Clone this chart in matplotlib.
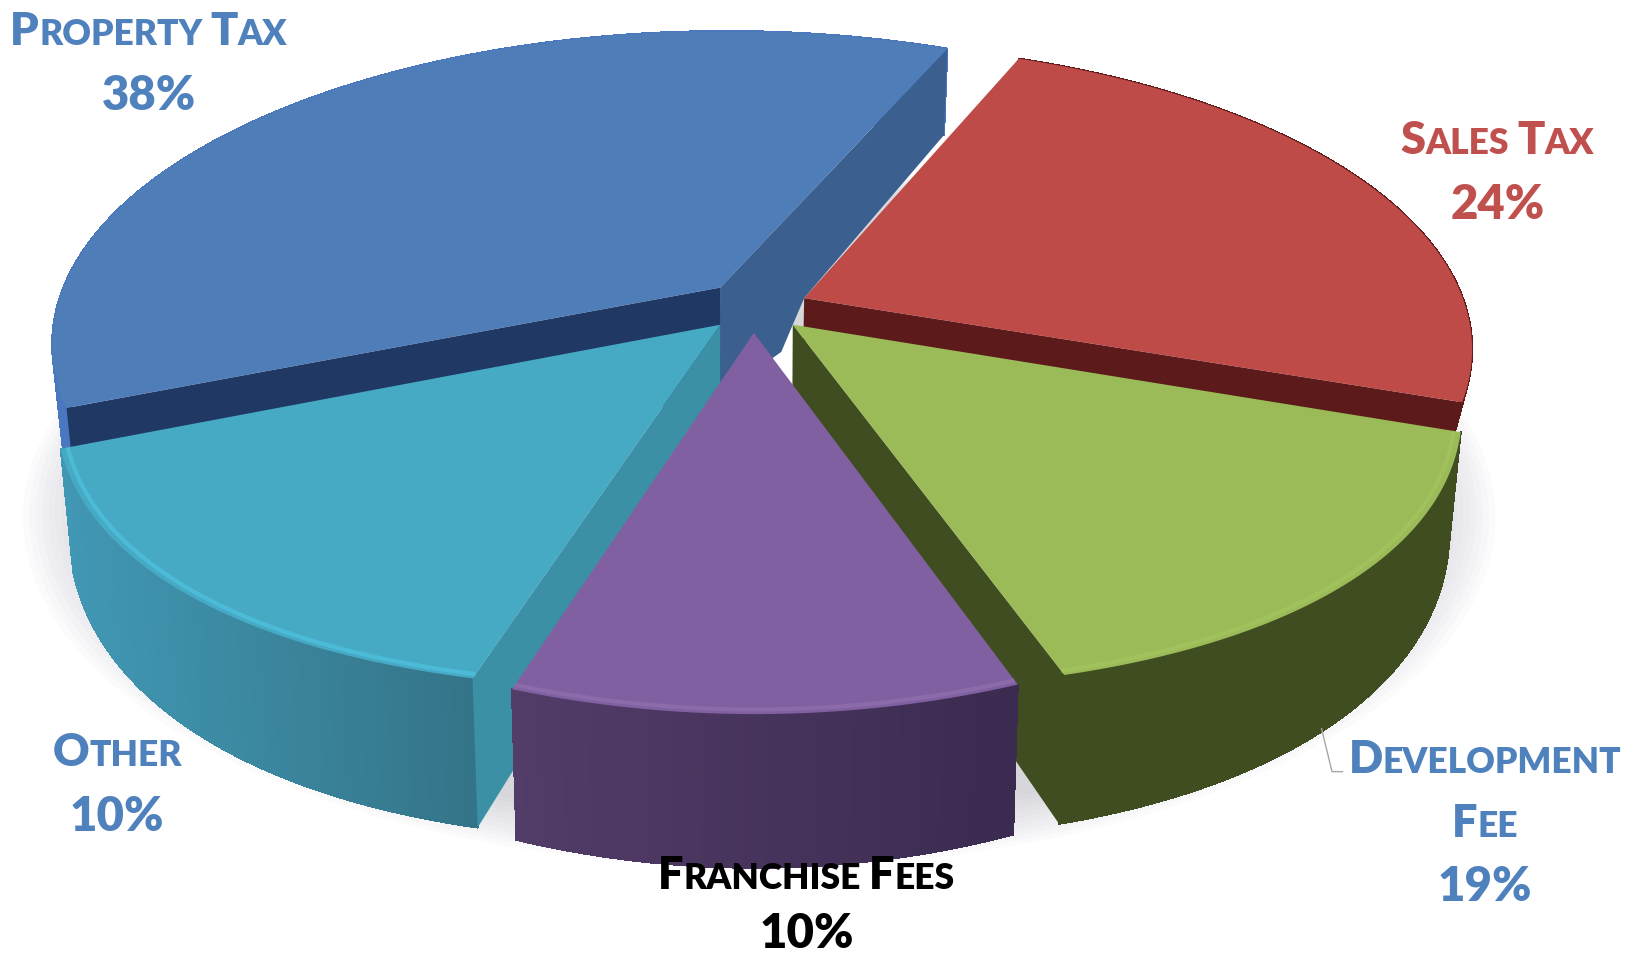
import numpy as np
from matplotlib import pyplot as plt
from matplotlib.collections import PolyCollection
from matplotlib.colors import to_rgb

# slices clockwise from the back right; shares are the angles as drawn on the
# picture, label_pct is what the labels say (the picture does not agree with them)
names = ['Sales Tax', 'Development Fee', 'Franchise Fees', 'Other', 'Property Tax']
shares = [23.9, 14.3, 10.3, 14.0, 37.5]
label_pct = ['24%', '19%', '10%', '10%', '38%']

START_ANGLE = 23.0
CX, CY = 725.0, 300.0     # screen position of the pie centre
RX, RY = 637.0, 296.0
PERSP = 0.175
WALL, WALL_PERSP = 105.0, 0.27
WALL_SHRINK = 0.982       # the bottom of the pie is a little narrower

# plane offset, radius, rim bulge and wall height of each slice
explode_u = [0.068, 0.050, -0.008, -0.058, -0.059]
explode_v = [-0.052, 0.034, 0.060, 0.034, -0.087]
radius = [0.99, 0.99, 0.985, 0.987, 1.0]
bulge = [0.01, 0.025, 0.008, 0.025, 0.0]
wall_scale = [0.4, 1, 1, 1, 1]

top_col = ['#BE4B48', '#9BBB59', '#8060A0', '#46AAC5', '#4F7DB8']
rim_col = [None, '#A3C45C', '#9070AE', '#4FC3E0', None]
wall_left = ['#5C1A1A', '#3F4D20', '#523C68', '#4198B4', '#4A78C0']
wall_right = ['#5C1A1A', '#3F4D20', '#3B2B50', '#347488', '#4A78C0']
cut_start = ['#5C1A1A', '#3F4D20', '#3B2B50', '#3C90A6', '#1F3864']
cut_end = ['#5C1A1A', '#3F4D20', '#3B2B50', '#3C90A6', '#3B5F8F']
draw_order = [4, 0, 3, 1, 2]


def project(u, v):
    w = 1.0 - PERSP * v
    return CX + RX * u / w, CY + RY * v / w


def drop(v):
    return WALL / (1.0 - WALL_PERSP * v)


def under(x):
    return CX + (x - CX) * WALL_SHRINK


def arc(i, a0, a1, n=120):
    t = np.radians(np.linspace(a0, a1, n))
    r = radius[i] * (1 + bulge[i] * np.sin(np.linspace(0, np.pi, n)))
    return explode_u[i] + r * np.sin(t), explode_v[i] - r * np.cos(t)


def mix(c0, c1, f):
    a, b = np.array(to_rgb(c0)), np.array(to_rgb(c1))
    return tuple(a + (b - a) * f)


def cut_visible(ax0, ay0, xc, yc, mx, my):
    # the cut face shows when the slice top lies above the cut line
    if abs(xc - ax0) < 1e-6:
        return False
    return my < ay0 + (yc - ay0) * (mx - ax0) / (xc - ax0)


fig = plt.figure(figsize=(16.42, 9.58), dpi=100)
ax = fig.add_axes([0, 0, 1, 1])
ax.set_xlim(0, 1568)
ax.set_ylim(915, 0)
ax.axis('off')

# soft shadow under the pie
t = np.radians(np.linspace(0, 360, 240))
for r in np.linspace(1.08, 0.98, 12):
    x, y = project(r * np.sin(t), r * -np.cos(t) + 0.02)
    ax.fill(x, y + 125, color='#6E6E80', alpha=0.025, lw=0, zorder=1)

edges = START_ANGLE + np.concatenate([[0], np.cumsum(shares)]) * 3.6

# the piece of the inner wall seen between the slices, and the white chink
px, py = project(explode_u[4], explode_v[4])
sx, sy = project(explode_u[0], explode_v[0])
dx, dy = project(explode_u[1], explode_v[1])
ax.fill([dx, dx - 35, dx, dx + 4], [dy, dy + 40, dy + 65, dy + 20], color='white', lw=0, zorder=1.5)
ax.fill([px, sx, dx, dx - 11, px], [py, sy, dy, dy + 26, py + drop(explode_v[4])],
        color=cut_end[4], lw=0, zorder=1.6)

z = 2
for i in draw_order:
    a0, a1 = edges[i], edges[i + 1]
    u, v = arc(i, a0, a1)
    x, y = project(u, v)
    d = drop(v) * wall_scale[i]
    xb = under(x)
    ax0, ay0 = project(explode_u[i], explode_v[i])
    da = drop(explode_v[i]) * wall_scale[i]
    mx, my = project(u[len(u) // 2] * 0.6 + explode_u[i] * 0.4, v[len(v) // 2] * 0.6 + explode_v[i] * 0.4)

    # the curved wall, shaded from left to right
    polys = []
    cols = []
    span = max(x.max() - x.min(), 1.0)
    for k in range(len(x) - 1):
        polys.append([(x[k], y[k]), (x[k + 1], y[k + 1]),
                      (xb[k + 1], y[k + 1] + d[k + 1]), (xb[k], y[k] + d[k])])
        cols.append(mix(wall_left[i], wall_right[i], (x[k] - x.min()) / span))
    ax.add_collection(PolyCollection(polys, facecolors=cols, edgecolors=cols,
                                     linewidths=0.8, antialiaseds=False, zorder=z))
    z += 1
    # the cut faces that can be seen
    if cut_visible(ax0, ay0, x[0], y[0], mx, my):
        ax.fill([ax0, x[0], xb[0], under(ax0)], [ay0, y[0], y[0] + d[0], ay0 + da],
                color=cut_start[i], lw=0, zorder=z)
    if cut_visible(ax0, ay0, x[-1], y[-1], mx, my):
        ax.fill([ax0, x[-1], xb[-1], under(ax0)], [ay0, y[-1], y[-1] + d[-1], ay0 + da],
                color=cut_end[i], lw=0, zorder=z)
    # top face
    ax.fill(np.r_[ax0, x], np.r_[ay0, y], color=top_col[i], lw=0, zorder=z)
    # bevel highlight along the front rim
    if rim_col[i]:
        xr, yr = project(u * 0.99 + explode_u[i] * 0.01, v * 0.99 + explode_v[i] * 0.01)
        ax.plot(xr, yr, color=rim_col[i], lw=3, alpha=0.7, zorder=z,
                solid_capstyle='butt')
    z += 1

# leader line of the development fee label
leader_x = [1262, 1272, 1282]
leader_y = [696, 737, 737]
ax.plot(leader_x, leader_y, color='#A6A6A6', lw=1, zorder=z)

plt.rcParams['font.family'] = ['Lato', 'DejaVu Sans']
fig.canvas.draw()
renderer = fig.canvas.get_renderer()


def small_caps(cx, base, s, color, big=32.5, small=25.5):
    # word by word: first letter big, the rest as small capitals
    runs = []
    for word in s.split(' '):
        runs.append((word[0], big))
        if len(word) > 1:
            runs.append((word[1:].upper(), small))
        runs.append((' ', small))
    runs = runs[:-1]
    arts = []
    total = 0.0
    for txt, size in runs:
        tt = ax.text(0, base, txt, fontsize=size, fontweight='heavy', color=color,
                     va='baseline', ha='left', zorder=50)
        if txt == ' ':
            w = size * 0.3
        else:
            w = tt.get_window_extent(renderer).width * 1568 / 1642
        arts.append((tt, w))
        total += w
    pos = cx - total / 2
    for tt, w in arts:
        tt.set_x(pos)
        pos += w


BLUE, RED = '#4F81BD', '#C0504D'
label_lines = [['Sales Tax'], ['Development', 'Fee'], ['Franchise Fees'], ['Other'], ['Property Tax']]
label_cols = [RED, BLUE, 'black', BLUE, BLUE]
label_x = [1430, 1418, 770, 112, 142]
label_y = [147, 738, 849, 732, 43]
LINE = 61

for i in range(5):
    base = label_y[i]
    for line in label_lines[i]:
        small_caps(label_x[i], base, line, label_cols[i])
        base += LINE
    # the bottom label sits right at the edge of the picture
    ax.text(label_x[i], min(base + 1, 905), label_pct[i], fontsize=34, fontweight='heavy',
            color=label_cols[i], ha='center', va='baseline', zorder=50)

fig.savefig('out.png', dpi=100)
